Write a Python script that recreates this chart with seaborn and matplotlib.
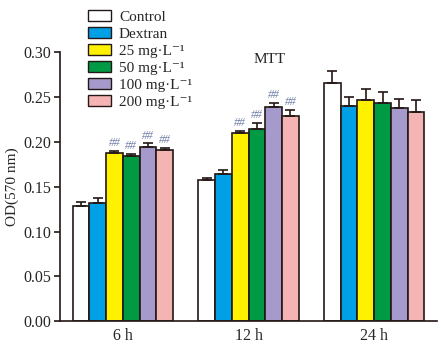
import pandas as pd
import matplotlib
matplotlib.use("Agg")
import matplotlib.pyplot as plt
import seaborn as sns
from matplotlib.patches import Patch

# ----------- Data ---------------
times = ["6 h", "12 h", "24 h"]
groups = ["Control", "Dextran", "25 mg·L⁻¹", "50 mg·L⁻¹",
          "100 mg·L⁻¹", "200 mg·L⁻¹"]
colors = ["#ffffff", "#00a0e6", "#fff100", "#009944", "#a59acb", "#f4b4b4"]

od_6h = [0.1286, 0.132, 0.187, 0.184, 0.194, 0.1906]
od_12h = [0.157, 0.164, 0.210, 0.214, 0.2385, 0.2285]
od_24h = [0.265, 0.2396, 0.2463, 0.243, 0.2374, 0.233]

err_6h = [0.004, 0.005, 0.003, 0.0025, 0.004, 0.0025]
err_12h = [0.002, 0.004, 0.002, 0.007, 0.0045, 0.0067]
err_24h = [0.0134, 0.010, 0.0117, 0.012, 0.010, 0.0133]

# which bars carry the "##" mark
mark_6h = [False, False, True, True, True, True]
mark_12h = [False, False, True, True, True, True]
mark_24h = [False] * 6

rows = []
for t, vals, errs, marks in zip(times, [od_6h, od_12h, od_24h],
                                [err_6h, err_12h, err_24h],
                                [mark_6h, mark_12h, mark_24h]):
    for g, v, e, m in zip(groups, vals, errs, marks):
        rows.append({"time": t, "group": g, "od": v, "err": e, "mark": m})
df = pd.DataFrame(rows)

# ----------- Plot ---------------
sns.set_style("ticks")
plt.rcParams["font.family"] = ["Liberation Serif", "DejaVu Serif"]

fig = plt.figure(figsize=(4.41, 3.54), dpi=100)
ax = fig.add_axes([0.136, 0.092, 0.855, 0.762])

sns.barplot(data=df, x="time", y="od", hue="group", order=times,
            hue_order=groups, palette=colors, errorbar=None, saturation=1,
            edgecolor="#231815", linewidth=1.2, ax=ax, legend=False,
            width=0.8, gap=0)

# error bars and marks from the bar patches
bars = [p for p in ax.patches]
for gi, g in enumerate(groups):
    for ti, t in enumerate(times):
        p = bars[gi * len(times) + ti]
        row = df[(df.time == t) & (df.group == g)].iloc[0]
        xc = p.get_x() + p.get_width() / 2
        top = p.get_height()
        ax.errorbar(xc, top, yerr=[[0], [row.err]], fmt="none",
                    ecolor="#231815", elinewidth=1.2, capsize=3.5,
                    capthick=1.2, zorder=3)
        if row.mark:
            ax.text(xc, top + row.err + 0.002, "##", ha="center",
                    va="bottom", fontsize=8.5, color="#6f7fa8",
                    style="italic")

ax.set_ylim(0, 0.30)
ax.set_xlim(-0.5, 2.5)
ax.set_yticks([0, 0.05, 0.10, 0.15, 0.20, 0.25, 0.30])
ax.set_yticklabels([f"{v:.2f}" for v in [0, 0.05, 0.10, 0.15, 0.20, 0.25, 0.30]])
ax.tick_params(axis="y", labelsize=11.5, length=4, width=1.2, color="#231815",
               pad=2.5)
ax.tick_params(axis="x", labelsize=11.5, length=0, pad=5)
ax.set_xlabel("")
ax.set_ylabel("OD(570 nm)", fontsize=11, labelpad=3)
sns.despine(ax=ax)
for s in ["left", "bottom"]:
    ax.spines[s].set_linewidth(1.2)
    ax.spines[s].set_color("#231815")

ax.text(0.555, 0.995, "MTT", transform=ax.transAxes, ha="center",
        va="top", fontsize=11)

handles = [Patch(facecolor=c, edgecolor="#231815", linewidth=1.0, label=g)
           for c, g in zip(colors, groups)]
fig.legend(handles=handles, loc="upper left", bbox_to_anchor=(0.178, 1.0),
           frameon=False, fontsize=11, handlelength=1.5, handleheight=0.7,
           handletextpad=0.5, labelspacing=0.22, borderaxespad=0.25)

fig.savefig("out.png", dpi=100)
